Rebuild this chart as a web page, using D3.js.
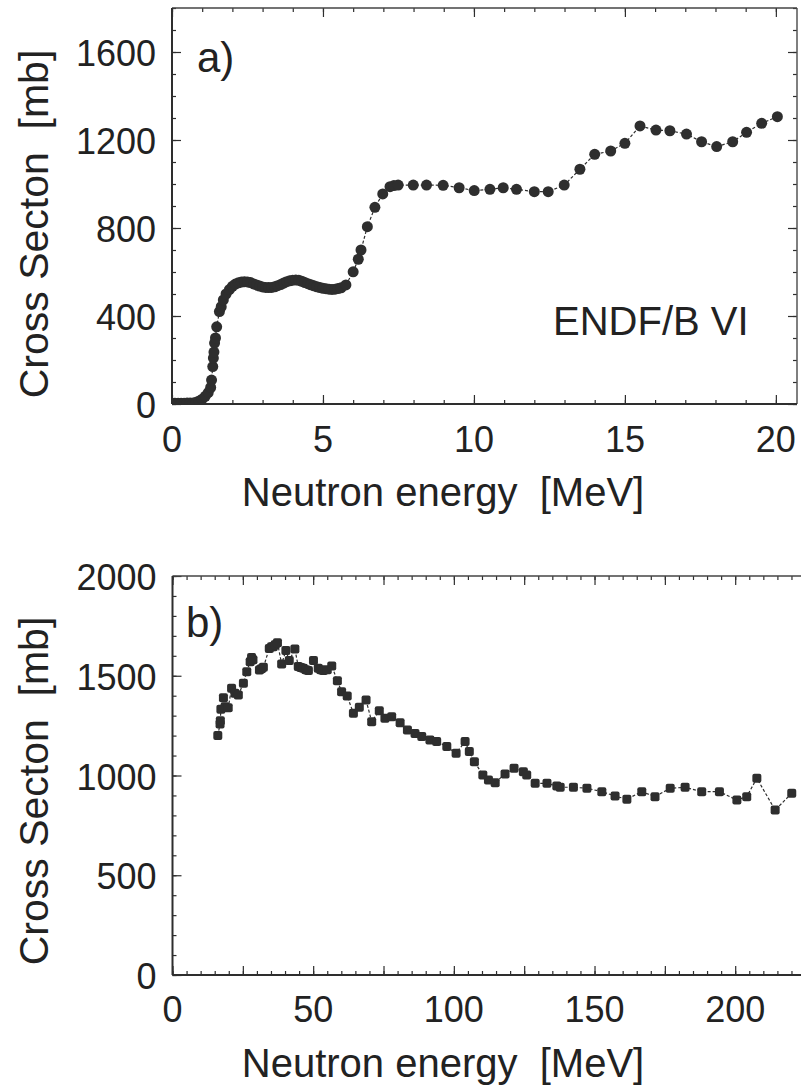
<!DOCTYPE html>
<html><head><meta charset="utf-8">
<script src="https://cdn.jsdelivr.net/npm/d3@7"></script>
<style>
body{margin:0;background:#fff}
text{font-family:"Liberation Sans",Arial,Helvetica,sans-serif;fill:#222}
</style>
</head><body>
<svg id="c" width="801" height="1087"></svg>
<script>
// ---------- panel a) data (ENDF/B VI), MeV / mb ----------
const energyA=[0.0,0.1,0.2,0.3,0.4,0.5,0.6,0.7,0.8,0.9,1.0,1.1,1.2,1.28,1.31,1.35,1.37,1.39,1.41,1.44,1.48,1.57,1.63,1.7,1.79,1.9,
 2.0,2.1,2.2,2.3,2.4,2.5,2.6,2.7,2.8,2.9,3.0,3.1,3.2,3.3,3.4,3.5,3.6,3.7,3.8,3.9,4.0,4.1,4.2,4.3,4.4,4.5,4.6,4.7,4.8,4.9,
 5.0,5.1,5.2,5.3,5.4,5.5,5.6,5.76,6.0,6.17,6.26,6.47,6.72,6.98,7.22,7.35,7.49,7.99,8.43,8.98,9.51,10.01,10.53,10.97,11.41,
 12.0,12.46,12.99,13.51,14.0,14.53,15.0,15.5,16.03,16.49,17.04,17.54,18.04,18.57,19.03,19.53,20.05];
const sigmaA=[3,3,3,3,3,4,4,5,8,14,22,35,52,75,109,170,209,236,277,300,351,420,442,473,500,520,
 535,545,551,554,556,555,552,546,541,536,532,530,529,530,533,538,543,550,556,560,563,564,562,558,552,547,542,537,533,529,
 526,524,522,521,522,525,528,541,601,658,700,806,894,955,988,993,995,995,995,994,983,970,976,983,976,
 965,965,995,1067,1135,1150,1185,1264,1245,1242,1227,1192,1170,1192,1235,1276,1306];

// ---------- panel b) data, MeV / mb ----------
const energyB=[16.1,16.9,17.0,17.2,18.1,18.7,19.8,21.0,22.2,23.4,25.2,26.4,27.6,28.1,28.6,30.9,31.6,32.3,34.4,35.2,35.8,36.5,37.3,
 38.8,40.3,41.5,43.5,44.7,45.6,46.5,47.4,48.3,50.1,51.8,52.7,53.6,55.0,56.6,58.6,60.1,62.1,64.3,66.4,68.8,70.8,73.5,75.5,77.9,
 80.9,83.5,86.2,88.6,91.5,93.9,97.5,100.8,104.0,105.5,107.3,110.3,112.3,114.7,118.2,121.4,124.7,125.9,128.9,133.1,136.6,
 137.8,142.5,147.3,152.6,157.3,161.5,166.8,171.5,176.9,182.2,188.1,194.4,200.6,204.1,207.7,214.2,220.1];
const sigmaB=[1200,1258,1275,1332,1390,1345,1340,1437,1412,1403,1462,1520,1570,1592,1580,1529,1535,1542,1637,1645,1645,1655,1666,
 1559,1626,1576,1634,1546,1541,1537,1530,1526,1576,1537,1530,1526,1530,1549,1475,1420,1398,1312,1342,1378,1270,1325,1287,1295,
 1265,1228,1211,1195,1178,1170,1145,1111,1170,1120,1069,1003,977,964,1008,1036,1019,1003,961,961,947,
 941,941,936,919,897,881,919,894,936,941,919,919,877,894,986,827,911];

// ---------- ticks ----------
const xTicksA=[0,5,10,15,20], yTicksA=[0,400,800,1200,1600];
const xTicksB=[0,50,100,150,200], yTicksB=[0,500,1000,1500,2000];

const svg=d3.select("#c");
const ink="#2e2e2e";

function panel(o){
  const g=svg.append("g");
  const x=d3.scaleLinear().domain(o.xd).range([o.L,o.R]);
  const y=d3.scaleLinear().domain(o.yd).range([o.B,o.T]);
  const cid="clip"+o.id;
  g.append("clipPath").attr("id",cid).append("rect")
    .attr("x",o.L).attr("y",o.T).attr("width",o.R-o.L).attr("height",o.B-o.T);

  const xMinor=d3.range(o.xd[0],o.xd[1]+1e-9,o.xMinor), xMajor=d3.range(o.xd[0],o.xd[1]+1e-9,o.xMajor);
  const yMinor=d3.range(o.yd[0],o.yd[1]+1e-9,o.yMinor), yMajor=d3.range(o.yd[0],o.yd[1]+1e-9,o.yMajor);
  const mk=(axis,vals,size)=>axis.tickValues(vals).tickSize(-size).tickFormat("");
  const put=(ax,tr)=>{const a=g.append("g").attr("transform",tr).call(ax);
     a.select(".domain").remove(); a.selectAll("line").attr("stroke",ink).attr("stroke-width",1.2);};
  put(mk(d3.axisBottom(x),xMinor,4),`translate(0,${o.B})`);
  put(mk(d3.axisBottom(x),xMajor,9),`translate(0,${o.B})`);
  put(mk(d3.axisTop(x),xMinor,4),`translate(0,${o.T})`);
  put(mk(d3.axisTop(x),xMajor,9),`translate(0,${o.T})`);
  put(mk(d3.axisLeft(y),yMinor,4),`translate(${o.L},0)`);
  put(mk(d3.axisLeft(y),yMajor,9),`translate(${o.L},0)`);
  if(o.rightAxis){
    put(mk(d3.axisRight(y),yMinor,4),`translate(${o.R},0)`);
    put(mk(d3.axisRight(y),yMajor,9),`translate(${o.R},0)`);
    g.append("line").attr("x1",o.R).attr("x2",o.R).attr("y1",o.T).attr("y2",o.B).attr("stroke","#555").attr("stroke-width",1.5);
  }

  g.append("line").attr("x1",o.L).attr("x2",o.R).attr("y1",o.T).attr("y2",o.T).attr("stroke","#444").attr("stroke-width",1.5);
  g.append("line").attr("x1",o.L).attr("x2",o.L).attr("y1",o.T).attr("y2",o.B).attr("stroke",ink).attr("stroke-width",2);
  g.append("line").attr("x1",o.L).attr("x2",o.R).attr("y1",o.B).attr("y2",o.B).attr("stroke",ink).attr("stroke-width",2);

  g.selectAll(".xl").data(o.xTicks).join("text").attr("x",d=>x(d)).attr("y",o.xLabY)
    .attr("text-anchor","middle").attr("font-size",36).text(d=>d);
  g.selectAll(".yl").data(o.yTicks).join("text").attr("x",o.L-16).attr("y",d=>y(d)+14)
    .attr("text-anchor","end").attr("font-size",36).text(d=>d);

  g.append("text").attr("x",443).attr("y",o.xTitleY).attr("text-anchor","middle").attr("font-size",40)
    .style("white-space","pre").text("Neutron energy  [MeV]");
  g.append("text").attr("transform",`translate(48,${o.yTitleC}) rotate(-90)`).attr("text-anchor","middle")
    .attr("font-size",41).style("white-space","pre").text("Cross Secton  [mb]");
  g.append("text").attr("x",o.tagX).attr("y",o.tagY).attr("font-size",42).text(o.tag);

  const pts=o.ex.map((e,i)=>[e,o.sy[i]]);
  const plot=g.append("g").attr("clip-path",`url(#${cid})`);
  plot.append("path").datum(pts).attr("fill","none").attr("stroke",ink).attr("stroke-width",1.2)
    .attr("stroke-dasharray","3,2").attr("d",d3.line().x(d=>x(d[0])).y(d=>y(d[1])));
  if(o.marker==="circle"){
    plot.selectAll("circle").data(pts).join("circle").attr("cx",d=>x(d[0])).attr("cy",d=>y(d[1]))
      .attr("r",5.5).attr("fill",ink);
  } else {
    plot.selectAll("rect.m").data(pts).join("rect").attr("class","m")
      .attr("x",d=>x(d[0])-4.5).attr("y",d=>y(d[1])-4.5).attr("width",9).attr("height",9)
      .attr("rx",2).attr("fill",ink);
  }
  return {g,x,y};
}

const a=panel({id:"a",L:172,R:797,T:8,B:404,xd:[0,20.7],yd:[0,1800],xMinor:1,xMajor:5,yMinor:100,yMajor:400,rightAxis:true,
  xTicks:xTicksA,yTicks:yTicksA,xLabY:452,xTitleY:506,yTitleC:224,tag:"a)",tagX:197,tagY:72,ex:energyA,sy:sigmaA,marker:"circle"});
a.g.append("text").attr("x",553).attr("y",335).attr("font-size",40).text("ENDF/B VI");

panel({id:"b",L:172.5,R:803,T:576,B:975,xd:[0,224.1],yd:[0,2000],xMinor:5,xMajor:25,yMinor:100,yMajor:500,rightAxis:false,
  xTicks:xTicksB,yTicks:yTicksB,xLabY:1022,xTitleY:1077,yTitleC:791,tag:"b)",tagX:186,tagY:637,ex:energyB,sy:sigmaB,marker:"square"});
</script>
</body></html>
